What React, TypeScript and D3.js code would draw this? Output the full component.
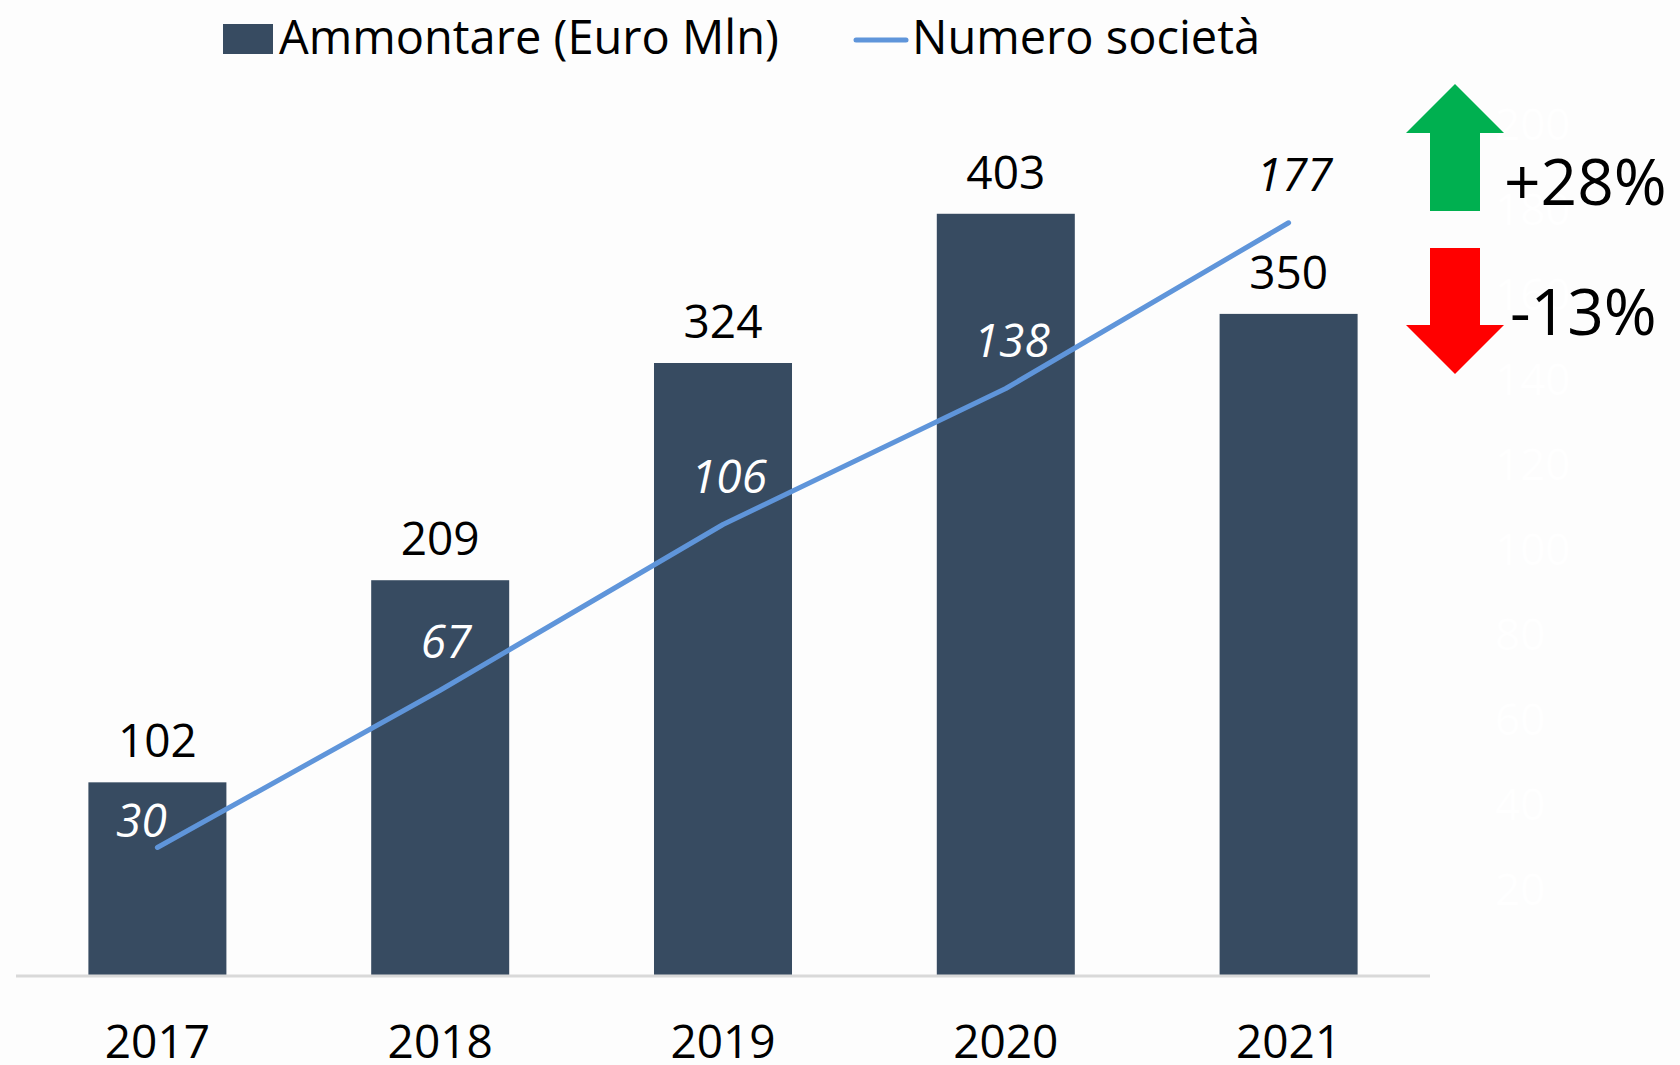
import React, {useRef, useEffect} from 'react'
import * as d3 from 'd3'

const years = ['2017', '2018', '2019', '2020', '2021']
const ammontare = [102, 209, 324, 403, 350]
const societa = [30, 67, 106, 138, 177]
const rightTicks = [20, 40, 60, 80, 100, 120, 140, 160, 180, 200]
const changes = [
  {label: '+28%', dir: 'up', color: '#00B050'},
  {label: '-13%', dir: 'down', color: '#FF0000'},
]

export default function App() {
  const ref = useRef(null)

  const layout = {width: 1680, height: 1065, left: 16, right: 1430, base: 975, top: 125}
  const font = "'Open Sans', 'Noto Sans', sans-serif"

  useEffect(() => {
    const svg = d3.select(ref.current)
    svg.selectAll('*').remove()

    svg.append('rect')
      .attr('width', layout.width)
      .attr('height', layout.height)
      .attr('fill', '#fdfdfd')

    const x = d3.scaleBand()
      .domain(years)
      .range([layout.left, layout.right])
      .paddingInner(0.512)
      .paddingOuter(0.256)

    // left axis (hidden) for amounts, right axis for number of companies
    const yBar = d3.scaleLinear().domain([0, 450]).range([layout.base, layout.top])
    const yLine = d3.scaleLinear().domain([0, 200]).range([layout.base, layout.top])

    // faint right axis labels (white on white, as in the original)
    svg.append('g')
      .selectAll('text')
      .data(rightTicks)
      .join('text')
      .attr('x', 1495)
      .attr('y', d => yLine(d))
      .attr('dy', '0.35em')
      .attr('font-family', font)
      .attr('font-size', 44)
      .attr('fill', '#ffffff')
      .text(d => d)

    // bars
    svg.append('g')
      .selectAll('rect')
      .data(ammontare)
      .join('rect')
      .attr('x', (d, i) => x(years[i]))
      .attr('y', d => yBar(d))
      .attr('width', x.bandwidth())
      .attr('height', d => layout.base - yBar(d))
      .attr('fill', '#374B61')

    // x axis line
    svg.append('line')
      .attr('x1', layout.left)
      .attr('x2', layout.right)
      .attr('y1', layout.base + 1)
      .attr('y2', layout.base + 1)
      .attr('stroke', '#d9d9d9')
      .attr('stroke-width', 3)

    // year labels
    svg.append('g')
      .selectAll('text')
      .data(years)
      .join('text')
      .attr('x', d => x(d) + x.bandwidth() / 2)
      .attr('y', 1058)
      .attr('text-anchor', 'middle')
      .attr('font-family', font)
      .attr('font-size', 46)
      .attr('fill', '#000')
      .text(d => d)

    // bar value labels
    svg.append('g')
      .selectAll('text')
      .data(ammontare)
      .join('text')
      .attr('x', (d, i) => x(years[i]) + x.bandwidth() / 2)
      .attr('y', d => yBar(d) - 25)
      .attr('text-anchor', 'middle')
      .attr('font-family', font)
      .attr('font-size', 46)
      .attr('fill', '#000')
      .text(d => d)

    // line
    const line = d3.line()
      .x((d, i) => x(years[i]) + x.bandwidth() / 2)
      .y(d => yLine(d))

    svg.append('path')
      .datum(societa)
      .attr('d', line)
      .attr('fill', 'none')
      .attr('stroke', '#5F95DA')
      .attr('stroke-width', 5)
      .attr('stroke-linecap', 'round')
      .attr('stroke-linejoin', 'round')

    // line labels, first one sits lower-left like the original
    svg.append('g')
      .selectAll('text')
      .data(societa)
      .join('text')
      .attr('x', (d, i) => x(years[i]) + x.bandwidth() / 2 + (i === 0 ? -16 : 6))
      .attr('y', (d, i) => yLine(d) - (i === 0 ? 11 : 32))
      .attr('text-anchor', 'middle')
      .attr('font-family', font)
      .attr('font-style', 'italic')
      .attr('font-size', 46)
      .attr('fill', (d, i) => i === societa.length - 1 ? '#000' : '#fff')
      .text(d => d)

    // legend
    const legend = svg.append('g')
    legend.append('rect')
      .attr('x', 223).attr('y', 24).attr('width', 50).attr('height', 30)
      .attr('fill', '#374B61')
    legend.append('text')
      .attr('x', 279).attr('y', 54)
      .attr('font-family', font).attr('font-size', 47)
      .text('Ammontare (Euro Mln)')
    legend.append('line')
      .attr('x1', 856).attr('x2', 906).attr('y1', 40).attr('y2', 40)
      .attr('stroke', '#5F95DA').attr('stroke-width', 5).attr('stroke-linecap', 'round')
    legend.append('text')
      .attr('x', 912).attr('y', 54)
      .attr('font-family', font).attr('font-size', 47)
      .text('Numero società')

    // change arrows
    const cx = 1455
    const arrows = svg.append('g')
    changes.forEach((c, i) => {
      let pts
      if (c.dir === 'up') {
        pts = [[cx, 84], [1504, 133], [1480, 133], [1480, 211], [1430, 211], [1430, 133], [1406, 133]]
      } else {
        pts = [[1430, 248], [1480, 248], [1480, 325], [1504, 325], [cx, 374], [1406, 325], [1430, 325]]
      }
      arrows.append('polygon')
        .attr('points', pts.map(p => p.join(',')).join(' '))
        .attr('fill', c.color)
      arrows.append('text')
        .attr('x', c.dir === 'up' ? 1504 : 1510)
        .attr('y', c.dir === 'up' ? 205 : 335)
        .attr('font-family', font)
        .attr('font-size', 64)
        .attr('fill', '#000')
        .text(c.label)
    })
  }, [])

  return (
    <svg ref={ref} width={layout.width} height={layout.height}
      style={{position: 'absolute', left: 0, top: 0}} />
  )
}
